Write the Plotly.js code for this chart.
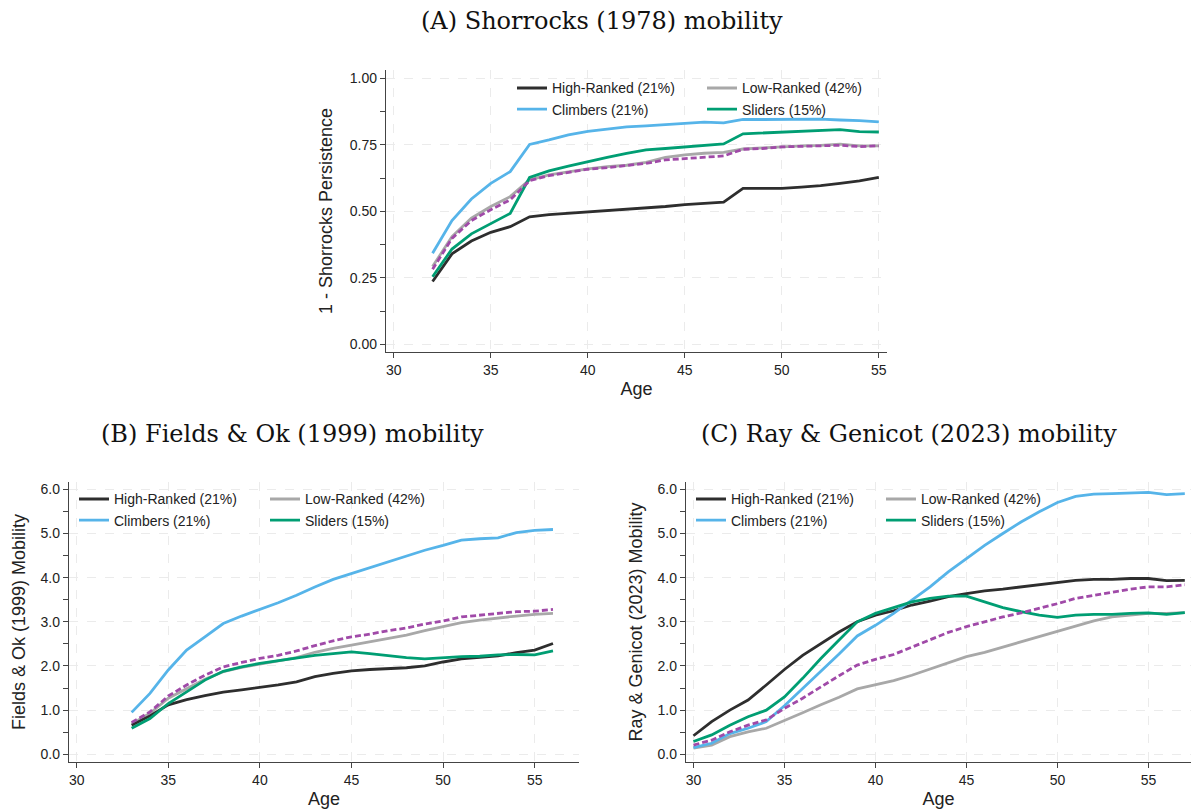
<!DOCTYPE html>
<html>
<head>
<meta charset="utf-8">
<script src="https://cdn.plot.ly/plotly-3.0.1.min.js"></script>
<style>html,body{margin:0;padding:0;background:#fff;}#chart{width:1191px;height:810px;}</style>
</head>
<body>
<div id="chart"></div>
<script>
// ---------- Data ----------
const panelTitles = ["(A) Shorrocks (1978) mobility", "(B) Fields & Ok (1999) mobility", "(C) Ray & Genicot (2023) mobility"];
const yTitles = ["1 - Shorrocks Persistence", "Fields & Ok (1999) Mobility", "Ray & Genicot (2023) Mobility"];
const groupNames = ["High-Ranked (21%)", "Low-Ranked (42%)", "Climbers (21%)", "Sliders (15%)"];

// Panel A: Shorrocks
const agesA = [32,33,34,35,36,37,38,39,40,41,42,43,44,45,46,47,48,49,50,51,52,53,54,55];
const shorHigh = [0.236,0.340,0.388,0.421,0.442,0.479,0.487,0.492,0.499,0.502,0.507,0.514,0.518,0.525,0.530,0.534,0.586,0.587,0.586,0.591,0.596,0.605,0.614,0.627];
const shorLow = [0.292,0.405,0.474,0.518,0.555,0.618,0.637,0.649,0.659,0.668,0.673,0.684,0.703,0.712,0.718,0.721,0.734,0.738,0.743,0.746,0.748,0.752,0.746,0.746];
const shorClimb = [0.342,0.465,0.546,0.605,0.649,0.751,0.768,0.787,0.800,0.808,0.817,0.821,0.826,0.831,0.835,0.832,0.845,0.845,0.846,0.846,0.846,0.843,0.841,0.836];
const shorSlide = [0.254,0.358,0.415,0.455,0.492,0.627,0.652,0.670,0.687,0.703,0.718,0.731,0.736,0.742,0.747,0.753,0.791,0.794,0.798,0.802,0.803,0.807,0.799,0.798];
const shorAll = [0.282,0.398,0.465,0.506,0.543,0.615,0.634,0.647,0.658,0.664,0.672,0.680,0.693,0.698,0.702,0.708,0.733,0.736,0.742,0.743,0.746,0.748,0.743,0.746];

// Panel B: Fields & Ok
const agesB = [33,34,35,36,37,38,39,40,41,42,43,44,45,46,47,48,49,50,51,52,53,54,55,56];
const foHigh = [0.66,0.87,1.12,1.24,1.33,1.41,1.46,1.51,1.57,1.64,1.76,1.83,1.89,1.92,1.94,1.96,2.00,2.09,2.16,2.19,2.23,2.30,2.36,2.51];
const foLow = [0.69,0.93,1.27,1.49,1.70,1.87,1.97,2.04,2.11,2.19,2.31,2.40,2.47,2.55,2.62,2.70,2.80,2.89,2.98,3.04,3.09,3.13,3.17,3.19];
const foClimb = [0.95,1.38,1.91,2.36,2.66,2.96,3.13,3.28,3.43,3.60,3.79,3.96,4.09,4.23,4.36,4.48,4.62,4.73,4.85,4.88,4.90,5.02,5.07,5.09];
const foSlide = [0.59,0.81,1.15,1.42,1.68,1.88,1.98,2.06,2.12,2.17,2.24,2.28,2.32,2.28,2.23,2.19,2.16,2.19,2.21,2.22,2.25,2.26,2.25,2.34];
const foAll = [0.72,0.96,1.32,1.57,1.79,1.98,2.08,2.17,2.24,2.34,2.46,2.57,2.66,2.72,2.80,2.86,2.95,3.02,3.11,3.15,3.19,3.23,3.24,3.28];

// Panel C: Ray & Genicot
const agesC = [30,31,32,33,34,35,36,37,38,39,40,41,42,43,44,45,46,47,48,49,50,51,52,53,54,55,56,57];
const rgHigh = [0.42,0.74,1.00,1.23,1.57,1.92,2.24,2.51,2.77,3.00,3.15,3.25,3.38,3.47,3.57,3.64,3.70,3.74,3.79,3.83,3.88,3.94,3.96,3.96,3.98,3.98,3.93,3.94];
const rgLow = [0.14,0.21,0.40,0.51,0.59,0.76,0.94,1.12,1.29,1.48,1.57,1.67,1.79,1.93,2.07,2.21,2.31,2.43,2.55,2.66,2.79,2.91,3.02,3.11,3.15,3.19,3.19,3.21];
const rgClimb = [0.15,0.25,0.47,0.59,0.74,1.10,1.49,1.87,2.27,2.68,2.92,3.19,3.49,3.79,4.13,4.43,4.73,5.00,5.26,5.49,5.70,5.84,5.89,5.90,5.92,5.93,5.88,5.90];
const rgSlide = [0.29,0.44,0.66,0.85,1.00,1.30,1.72,2.17,2.59,3.00,3.19,3.32,3.45,3.53,3.58,3.58,3.45,3.32,3.23,3.15,3.10,3.15,3.17,3.17,3.19,3.20,3.17,3.21];
const rgAll = [0.21,0.32,0.51,0.66,0.78,1.04,1.27,1.53,1.78,2.02,2.15,2.26,2.43,2.60,2.76,2.89,3.00,3.11,3.20,3.30,3.41,3.53,3.60,3.68,3.74,3.79,3.79,3.84];

const xTicks = [30,35,40,45,50,55];
const yTicksA = [0,0.25,0.5,0.75,1.0];
const yTicksBC = [0,1,2,3,4,5,6];

// ---------- Styles ----------
const colors = {high:"#2e2e2e", low:"#a8a8a8", climb:"#56b4e9", slide:"#009e73", all:"#a04aa8"};
const sans = "Liberation Sans, Arial, sans-serif";
const serif = "DejaVu Serif, Liberation Serif, serif";

function panelTraces(ages, high, low, climb, slide, all, xa, ya, legA, legB) {
  const base = {x: ages, type: "scatter", mode: "lines", xaxis: xa, yaxis: ya, hoverinfo: "skip"};
  return [
    Object.assign({}, base, {y: low, name: groupNames[1], line: {color: colors.low, width: 2.8}, legend: legB, legendrank: 1}),
    Object.assign({}, base, {y: high, name: groupNames[0], line: {color: colors.high, width: 2.8}, legend: legA, legendrank: 1}),
    Object.assign({}, base, {y: climb, name: groupNames[2], line: {color: colors.climb, width: 2.8}, legend: legA, legendrank: 2}),
    Object.assign({}, base, {y: slide, name: groupNames[3], line: {color: colors.slide, width: 2.8}, legend: legB, legendrank: 2}),
    Object.assign({}, base, {y: all, name: "All", showlegend: false, line: {color: colors.all, width: 2.8, dash: "6px,3px"}})
  ];
}

const data = [].concat(
  panelTraces(agesA, shorHigh, shorLow, shorClimb, shorSlide, shorAll, "x", "y", "legend", "legend2"),
  panelTraces(agesB, foHigh, foLow, foClimb, foSlide, foAll, "x2", "y2", "legend3", "legend4"),
  panelTraces(agesC, rgHigh, rgLow, rgClimb, rgSlide, rgAll, "x3", "y3", "legend5", "legend6")
);

const W = 1191, H = 810;
const px = v => v / W;
const py = v => 1 - v / H;

function xAxis(domain, range, anchor) {
  return {
    anchor: anchor, domain: domain, range: range, tickvals: xTicks, ticks: "outside", ticklen: 5, tickcolor: "#444", tickwidth: 1,
    showline: true, linecolor: "#444", linewidth: 1.2, showgrid: true, gridcolor: "#ebebeb", griddash: "dash", gridwidth: 1,
    zeroline: false, tickfont: {family: sans, size: 14, color: "#222"},
    title: {text: "Age", font: {family: sans, size: 18, color: "#222"}, standoff: 5}, fixedrange: true
  };
}
function yAxis(domain, range, tickvals, fmt, minorStep, title, standoff, anchor) {
  return {
    anchor: anchor, domain: domain, range: range, tickvals: tickvals, tickformat: fmt, ticks: "outside", ticklen: 5, tickcolor: "#444", tickwidth: 1,
    minor: {dtick: minorStep, tick0: 0, ticks: "outside", ticklen: 5, tickcolor: "#444", showgrid: false},
    showline: true, linecolor: "#444", linewidth: 1.2, showgrid: true, gridcolor: "#ebebeb", griddash: "dash", gridwidth: 1,
    zeroline: false, tickfont: {family: sans, size: 14, color: "#222"},
    title: {text: title, font: {family: sans, size: 18, color: "#222"}, standoff: standoff}, fixedrange: true
  };
}
function legend(xpx, ypx) {
  return {x: px(xpx), y: py(ypx), xanchor: "left", yanchor: "top", xref: "paper", yref: "paper",
          orientation: "v", bgcolor: "rgba(0,0,0,0)", borderwidth: 0,
          font: {family: sans, size: 14, color: "#222"}, itemclick: false, itemdoubleclick: false};
}

const layout = {
  width: W, height: H, margin: {l: 0, r: 0, t: 0, b: 0}, paper_bgcolor: "#fff", plot_bgcolor: "#fff",
  showlegend: true, hovermode: false,
  xaxis: xAxis([px(386), px(887)], [29.6, 55.42], "y"),
  yaxis: yAxis([py(352), py(70)], [-0.029, 1.031], yTicksA, ".2f", 0.125, yTitles[0], 12, "x"),
  xaxis2: xAxis([px(69), px(579)], [29.58, 57.42], "y2"),
  yaxis2: yAxis([py(762), py(482)], [-0.174, 6.165], yTicksBC, ".1f", 0.5, yTitles[1], 10, "x2"),
  xaxis3: xAxis([px(686), px(1191)], [29.59, 57.34], "y3"),
  yaxis3: yAxis([py(762), py(482)], [-0.174, 6.165], yTicksBC, ".1f", 0.5, yTitles[2], 10, "x3"),
  legend: legend(512, 72.4),
  legend2: legend(702, 72.4),
  legend3: legend(74, 483.4),
  legend4: legend(265, 483.4),
  legend5: legend(691, 483.4),
  legend6: legend(881, 483.4),
  annotations: [
    {text: panelTitles[0], x: px(602), y: py(21), xref: "paper", yref: "paper", xanchor: "center", yanchor: "middle", showarrow: false, font: {family: serif, size: 24, color: "#111"}},
    {text: panelTitles[1], x: px(292), y: py(434), xref: "paper", yref: "paper", xanchor: "center", yanchor: "middle", showarrow: false, font: {family: serif, size: 24, color: "#111"}},
    {text: panelTitles[2], x: px(909), y: py(434), xref: "paper", yref: "paper", xanchor: "center", yanchor: "middle", showarrow: false, font: {family: serif, size: 24, color: "#111"}}
  ]
};

Plotly.newPlot("chart", data, layout, {displayModeBar: false, staticPlot: true});
</script>
</body>
</html>
